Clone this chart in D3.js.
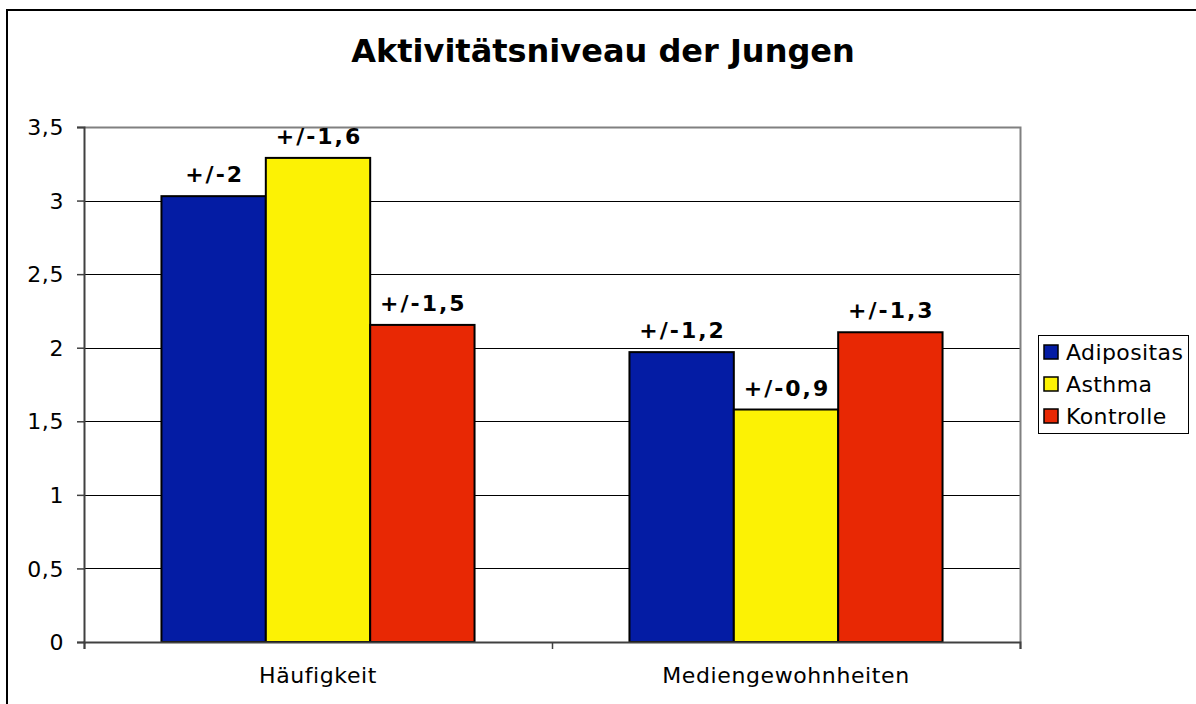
<!DOCTYPE html>
<html><head><meta charset="utf-8">
<script src="https://cdn.jsdelivr.net/npm/d3@7"></script>
<style>body{margin:0;background:#fff}svg{display:block}text{font-family:"DejaVu Sans",Verdana,sans-serif}</style>
</head><body><svg id="c" width="1196" height="704"></svg>
<script>
const categories = ["Häufigkeit", "Mediengewohnheiten"];
const seriesNames = ["Adipositas", "Asthma", "Kontrolle"];
const seriesColors = ["#041ca4", "#fcf204", "#e82804"];
const adipositas = [3.03, 1.97];
const asthma = [3.29, 1.58];
const kontrolle = [2.155, 2.105];
const errLabels = [["+/-2", "+/-1,2"], ["+/-1,6", "+/-0,9"], ["+/-1,5", "+/-1,3"]];
const yTicks = [0, 0.5, 1, 1.5, 2, 2.5, 3, 3.5];
const series = [adipositas, asthma, kontrolle];

const svg = d3.select("#c");
const L = 84, R = 1020, T = 127, B = 642;
const y = d3.scaleLinear().domain([0, 3.5]).range([B, T]);
const x0 = d3.scaleBand().domain(categories).range([L, R]).paddingInner(0.331).paddingOuter(0.1655);
const x1 = d3.scaleBand().domain(seriesNames).range([0, x0.bandwidth()]);
const fmt = v => String(v).replace(".", ",");

// outer chart border
svg.append("rect").attr("x", 7).attr("y", 10).attr("width", 1200).attr("height", 700)
  .attr("fill", "none").attr("stroke", "#000").attr("stroke-width", 2);

// title
svg.append("text").attr("x", 603).attr("y", 62).attr("text-anchor", "middle")
  .attr("font-size", 32).attr("font-weight", "bold").text("Aktivitätsniveau der Jungen");

// gridlines
svg.append("g").selectAll("line").data(yTicks.filter(t => t > 0 && t < 3.5)).join("line")
  .attr("x1", L).attr("x2", R).attr("y1", d => Math.round(y(d)) + 0.5).attr("y2", d => Math.round(y(d)) + 0.5)
  .attr("stroke", "#000").attr("stroke-width", 1);
// plot area border (top/right gray)
svg.append("path").attr("d", `M${L},${T + 0.5}H${R + 0.5}V${B}`).attr("fill", "none")
  .attr("stroke", "#808080").attr("stroke-width", 2);

// y axis
const yAxis = d3.axisLeft(y).tickValues(yTicks).tickFormat(fmt).tickSize(7).tickPadding(13);
const gy = svg.append("g").attr("transform", `translate(${L},0)`).call(yAxis);
gy.select(".domain").attr("stroke", "#404040").attr("stroke-width", 2);
gy.selectAll(".tick line").attr("stroke", "#404040").attr("stroke-width", 1.5);
gy.selectAll(".tick text").attr("font-size", 22).attr("fill", "#000").attr("font-family", "DejaVu Sans")
  .attr("letter-spacing", 0.6).attr("dy", "0.35em");

// bars
const groups = svg.append("g").selectAll("g").data(categories).join("g")
  .attr("transform", c => `translate(${x0(c)},0)`);
groups.each(function(c, ci) {
  const g = d3.select(this);
  seriesNames.forEach((s, si) => {
    const v = series[si][ci];
    g.append("rect").attr("x", x1(s)).attr("y", y(v)).attr("width", x1.bandwidth())
      .attr("height", y(0) - y(v)).attr("fill", seriesColors[si]).attr("stroke", "#000").attr("stroke-width", 2);
    g.append("text").attr("x", x1(s) + x1.bandwidth() / 2 + 1).attr("y", y(v) - 14)
      .attr("text-anchor", "middle").attr("font-size", 22).attr("font-weight", "bold")
      .attr("letter-spacing", 2).text(errLabels[si][ci]);
  });
});

// x axis
const xAxis = d3.axisBottom(d3.scaleLinear().domain([0, 2]).range([L, R])).tickValues([0, 1, 2]).tickSize(7).tickFormat("");
const gx = svg.append("g").attr("transform", `translate(0,${B})`).call(xAxis);
gx.select(".domain").attr("stroke", "#404040").attr("stroke-width", 2);
gx.selectAll(".tick line").attr("stroke", "#404040").attr("stroke-width", 1.5);
svg.append("g").selectAll("text").data(categories).join("text")
  .attr("x", c => x0(c) + x0.bandwidth() / 2).attr("y", 683).attr("text-anchor", "middle")
  .attr("font-size", 22).attr("letter-spacing", 0.6).text(c => c);

// legend
const lg = svg.append("g");
lg.append("rect").attr("x", 1038.5).attr("y", 335.5).attr("width", 150).attr("height", 98)
  .attr("fill", "#fff").attr("stroke", "#000").attr("stroke-width", 1);
seriesNames.forEach((s, i) => {
  const cy = 352 + i * 32;
  lg.append("rect").attr("x", 1044).attr("y", cy - 7).attr("width", 14).attr("height", 14)
    .attr("fill", seriesColors[i]).attr("stroke", "#000").attr("stroke-width", 1.5);
  lg.append("text").attr("x", 1066).attr("y", cy).attr("dy", "0.36em").attr("font-size", 22)
    .attr("letter-spacing", 0.4).text(s);
});
</script></body></html>
